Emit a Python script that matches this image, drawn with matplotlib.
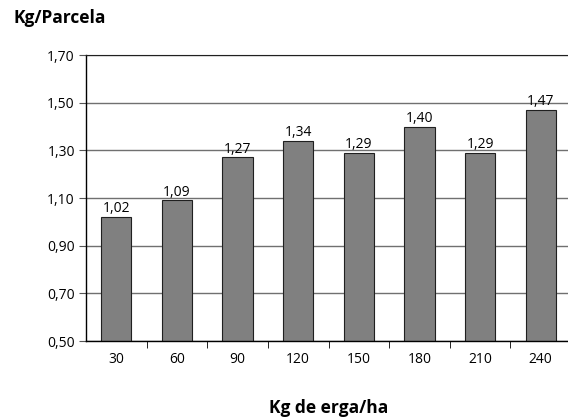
import matplotlib.pyplot as plt
import numpy as np

doses = ["30", "60", "90", "120", "150", "180", "210", "240"]
kg_parcela = [1.02, 1.09, 1.27, 1.34, 1.29, 1.40, 1.29, 1.47]
yticks = [0.50, 0.70, 0.90, 1.10, 1.30, 1.50, 1.70]

plt.rcParams["font.family"] = ["Open Sans", "DejaVu Sans"]

fig = plt.figure(figsize=(5.68, 4.19), dpi=100)
ax = fig.add_axes([86 / 568, 1 - 341 / 419, (571 - 86) / 568, (341 - 55) / 419])

x = np.arange(len(doses))
ax.set_axisbelow(True)
ax.yaxis.grid(True, color="#707070", linewidth=1.0)
ax.bar(x, kg_parcela, width=0.5, color="#808080",
       edgecolor="#202020", linewidth=0.8)
for xi, v in zip(x, kg_parcela):
    ax.text(xi, v + 0.003, f"{v:.2f}".replace(".", ","),
            ha="center", va="bottom", fontsize=10)

ax.set_xlim(-0.5, len(doses) - 0.5)
ax.set_ylim(0.50, 1.70)
ax.set_yticks(yticks)
ax.set_yticklabels([f"{t:.2f}".replace(".", ",") for t in yticks], fontsize=10)
ax.set_xticks(x)
ax.set_xticklabels(doses, fontsize=10)
ax.set_xticks(np.arange(0.5, len(doses) - 0.5), minor=True)
ax.tick_params(axis="x", which="major", length=0, pad=8)
ax.tick_params(axis="x", which="minor", length=5, direction="out", color="black")
ax.tick_params(axis="y", length=5, color="#555555", pad=3)

ax.spines["right"].set_visible(False)
ax.spines["top"].set_color("#202020")
for s in ("left", "bottom"):
    ax.spines[s].set_color("black")
    ax.spines[s].set_linewidth(1.0)

fig.text(14 / 568, 1 - 18 / 419, "Kg/Parcela", fontsize=12.5,
         fontweight="bold", va="center", ha="left")
fig.text(329 / 568, 1 - 408 / 419, "Kg de erga/ha", fontsize=12.5,
         fontweight="bold", va="center", ha="center")

fig.savefig("out.png", dpi=100, facecolor="white")
